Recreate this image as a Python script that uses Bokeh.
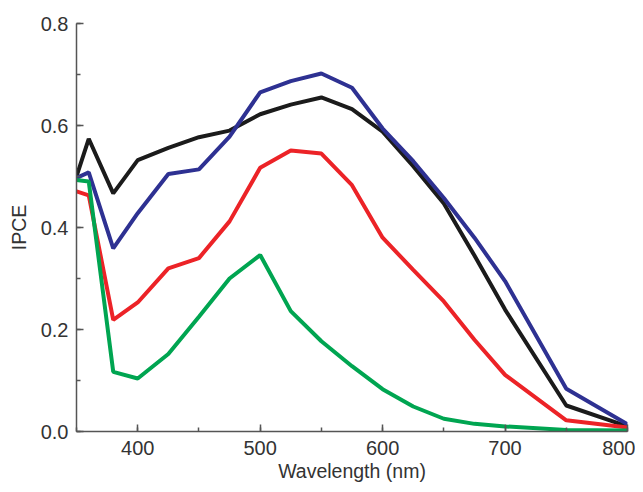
from bokeh.plotting import figure
from bokeh.models import Range1d, SingleIntervalTicker, PrintfTickFormatter
from bokeh.embed import file_html
from bokeh.resources import INLINE

wavelength = [350, 360, 380, 400, 425, 450, 475, 500, 525, 550, 575, 600, 625, 650, 675, 700, 750, 800]
black_ipce = [0.500, 0.574, 0.467, 0.532, 0.556, 0.577, 0.590, 0.622, 0.641, 0.655, 0.632, 0.588, 0.520, 0.447, 0.345, 0.239, 0.051, 0.010]
blue_ipce = [0.497, 0.508, 0.359, 0.428, 0.505, 0.514, 0.578, 0.665, 0.687, 0.702, 0.674, 0.594, 0.530, 0.458, 0.380, 0.295, 0.084, 0.014]
red_ipce = [0.471, 0.463, 0.219, 0.253, 0.320, 0.340, 0.412, 0.517, 0.551, 0.545, 0.483, 0.380, 0.317, 0.255, 0.180, 0.111, 0.022, 0.008]
green_ipce = [0.493, 0.490, 0.117, 0.104, 0.152, 0.225, 0.300, 0.346, 0.236, 0.177, 0.128, 0.083, 0.049, 0.025, 0.015, 0.010, 0.003, 0.002]

series = [
    (black_ipce, "#1b1b1b"),
    (blue_ipce, "#2e3192"),
    (red_ipce, "#ec2327"),
    (green_ipce, "#00a551"),
]

p = figure(width=635, height=484, output_backend="svg", toolbar_location=None,
           x_range=Range1d(350, 800), y_range=Range1d(0, 0.8),
           min_border_left=76, min_border_right=8, min_border_top=23, min_border_bottom=52)
p.outline_line_color = None
p.xgrid.visible = False
p.ygrid.visible = False
p.background_fill_color = "white"

for ys, c in series:
    p.line(wavelength, ys, line_color=c, line_width=4)

font = "Liberation Sans"
for ax in (p.xaxis[0], p.yaxis[0]):
    ax.axis_line_color = "#555555"
    ax.axis_line_width = 1.5
    ax.major_tick_line_color = "#555555"
    ax.minor_tick_line_color = "#555555"
    ax.major_tick_line_width = 1.5
    ax.minor_tick_line_width = 1.5
    ax.major_tick_in = 7
    ax.major_tick_out = 0
    ax.minor_tick_in = 4
    ax.minor_tick_out = 0
    ax.major_label_text_font = font
    ax.major_label_text_font_size = "20px"
    ax.major_label_text_color = "#333333"
    ax.axis_label_text_font = font
    ax.axis_label_text_font_size = "19.5px"
    ax.axis_label_text_font_style = "normal"
    ax.axis_label_text_color = "#333333"

p.xaxis.ticker = SingleIntervalTicker(interval=100, num_minor_ticks=2)
p.yaxis.ticker = SingleIntervalTicker(interval=0.2, num_minor_ticks=2)
p.yaxis.formatter = PrintfTickFormatter(format="%.1f")
p.xaxis.formatter = PrintfTickFormatter(format="%d")
p.xaxis.axis_label = "Wavelength (nm)"
p.yaxis.axis_label = "IPCE"
p.xaxis.major_label_standoff = 9
p.xaxis.axis_label_standoff = 2
p.yaxis.major_label_standoff = 8
p.yaxis.axis_label_standoff = 8

open("out.html", "w").write(file_html(p, INLINE))
